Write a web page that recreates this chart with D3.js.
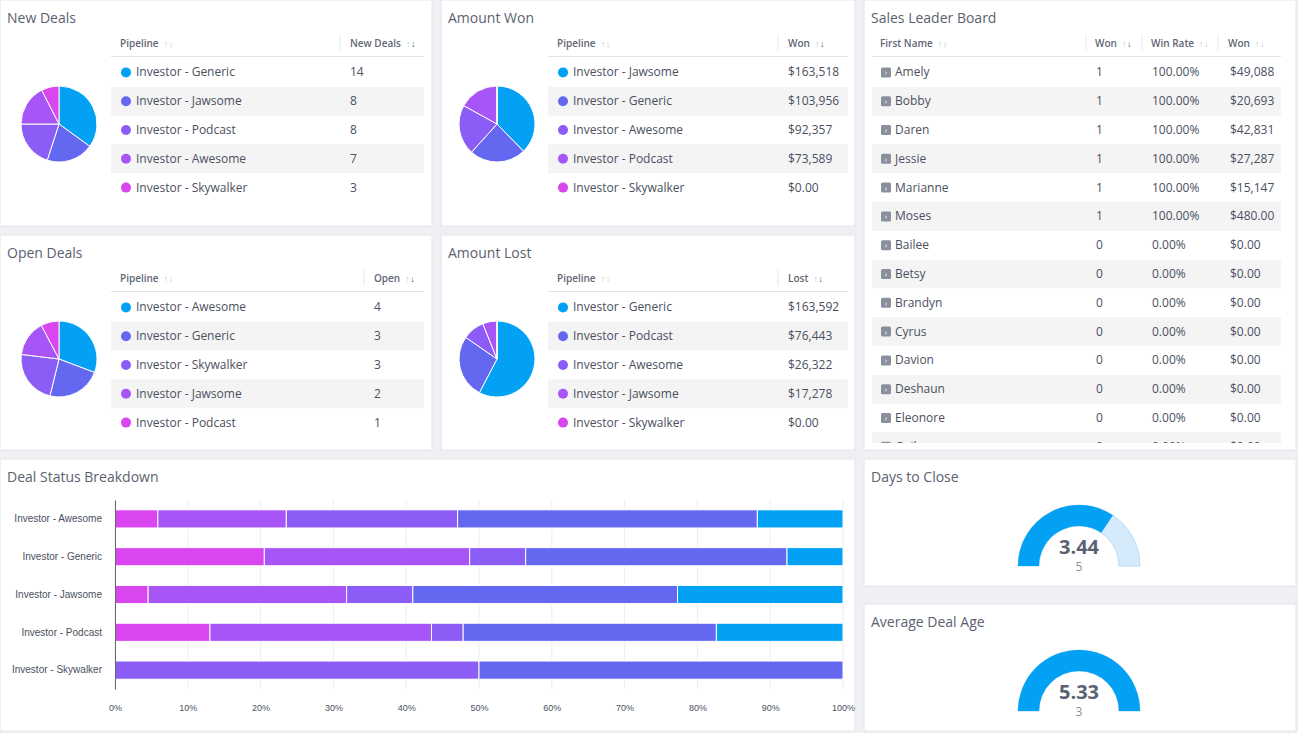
<!DOCTYPE html>
<html><head><meta charset="utf-8">
<script src="https://cdn.jsdelivr.net/npm/d3@7"></script>
<style>body{margin:0;background:#eef0f3;font-family:"Source Sans Pro","Open Sans","Noto Sans",sans-serif}</style>
</head><body><svg id="c" width="1298" height="733"></svg>
<script>
const colors=["#03a1f4","#6468f0","#8b5cf6","#a855f7","#d946ef"];
const newDealsCat=["Investor - Generic","Investor - Jawsome","Investor - Podcast","Investor - Awesome","Investor - Skywalker"];
const newDealsVal=[14,8,8,7,3];
const wonCat=["Investor - Jawsome","Investor - Generic","Investor - Awesome","Investor - Podcast","Investor - Skywalker"];
const wonVal=[163518,103956,92357,73589,0];
const wonLbl=["$163,518","$103,956","$92,357","$73,589","$0.00"];
const openCat=["Investor - Awesome","Investor - Generic","Investor - Skywalker","Investor - Jawsome","Investor - Podcast"];
const openVal=[4,3,3,2,1];
const lostCat=["Investor - Generic","Investor - Podcast","Investor - Awesome","Investor - Jawsome","Investor - Skywalker"];
const lostVal=[163592,76443,26322,17278,0];
const lostLbl=["$163,592","$76,443","$26,322","$17,278","$0.00"];
const leaderNames=["Amely","Bobby","Daren","Jessie","Marianne","Moses","Bailee","Betsy","Brandyn","Cyrus","Davion","Deshaun","Eleonore","Gail"];
const leaderWon=[1,1,1,1,1,1,0,0,0,0,0,0,0,0];
const leaderRate=["100.00%","100.00%","100.00%","100.00%","100.00%","100.00%","0.00%","0.00%","0.00%","0.00%","0.00%","0.00%","0.00%","0.00%"];
const leaderAmt=["$49,088","$20,693","$42,831","$27,287","$15,147","$480.00","$0.00","$0.00","$0.00","$0.00","$0.00","$0.00","$0.00","$0.00"];
const barCat=["Investor - Awesome","Investor - Generic","Investor - Jawsome","Investor - Podcast","Investor - Skywalker"];
// stage counts per pipeline (stack order: magenta, purple, violet, indigo, sky)
const stageA=[1,8,1,3,0];
const stageB=[3,11,6,7,0];
const stageC=[4,3,2,1,1];
const stageD=[7,14,8,8,1];
const stageE=[2,3,5,4,0];
const xTicks=[0,.1,.2,.3,.4,.5,.6,.7,.8,.9,1];
const gauges=[{title:"Days to Close",value:3.44,max:5},{title:"Average Deal Age",value:5.33,max:3}];

const svg=d3.select("#c");
const txt="#4a5060", hdr="#5f6675";
function panel(x,y,w,h,title){
  const g=svg.append("g").attr("transform",`translate(${x},${y})`);
  g.append("rect").attr("width",w).attr("height",h).attr("fill","#fff").attr("stroke","#e3e6ea");
  g.append("text").attr("x",7).attr("y",23).attr("font-size",14).attr("fill","#5a6170").text(title);
  return g;
}
function sortIcon(g,x,y,active){
  g.append("text").attr("x",x).attr("y",y).attr("font-size",9).attr("fill","#c3c7cf").text("↑");
  g.append("text").attr("x",x+5).attr("y",y).attr("font-size",9).attr("fill",active?"#4a5060":"#c3c7cf").text("↓");
}
function tableHeader(g,x0,x1,cols){
  g.append("line").attr("x1",x0).attr("x2",x1).attr("y1",56.5).attr("y2",56.5).attr("stroke","#dfe2e6");
  cols.forEach((c,i)=>{
    const t=g.append("text").attr("x",c.x).attr("y",47).attr("font-size",10).attr("font-weight",600).attr("fill",hdr).text(c.t);
    const w=t.node().getComputedTextLength();
    sortIcon(g,c.x+w+5,47,c.active);
    if(c.div) g.append("line").attr("x1",c.div).attr("x2",c.div).attr("y1",35).attr("y2",51).attr("stroke","#e6e8eb");
  });
}
function piePanel(x,y,w,h,title,col2,cats,vals,labels,tx0,tx1,divX,pcx){
  const g=panel(x,y,w,h,title);
  tableHeader(g,tx0,tx1,[{t:"Pipeline",x:tx0+9},{t:col2,x:divX+10,active:true,div:divX}]);
  const rowY=d3.scaleBand().domain(d3.range(cats.length)).range([58,202]);
  cats.forEach((c,i)=>{
    if(i%2==1) g.append("rect").attr("x",tx0).attr("y",rowY(i)).attr("width",tx1-tx0).attr("height",rowY.bandwidth()).attr("fill","#f4f4f5");
    const cy=rowY(i)+rowY.bandwidth()/2;
    g.append("circle").attr("cx",tx0+15).attr("cy",cy).attr("r",5).attr("fill",colors[i]);
    g.append("text").attr("x",tx0+25).attr("y",cy+4).attr("font-size",12).attr("fill",txt).text(c);
    g.append("text").attr("x",divX+10).attr("y",cy+4).attr("font-size",12).attr("fill",txt).text(labels[i]);
  });
  const pie=d3.pie().sort(null)(vals);
  const arc=d3.arc().innerRadius(0).outerRadius(38);
  g.append("g").attr("transform",`translate(${pcx},124)`).selectAll("path").data(pie).join("path")
    .attr("d",arc).attr("fill",(d,i)=>colors[i]).attr("stroke","#fff").attr("stroke-width",1);
}
piePanel(0,0,432,226,"New Deals","New Deals",newDealsCat,newDealsVal,newDealsVal,111,424,340,59);
piePanel(441,0,414,226,"Amount Won","Won",wonCat,wonVal,wonLbl,107,407,337,56);
piePanel(0,235,432,215,"Open Deals","Open",openCat,openVal,openVal,111,424,364,59);
piePanel(441,235,414,215,"Amount Lost","Lost",lostCat,lostVal,lostLbl,107,407,337,56);

// leaderboard
{
  const g=panel(864,0,432,450,"Sales Leader Board");
  svg.append("clipPath").attr("id","lb").append("rect").attr("x",0).attr("y",0).attr("width",432).attr("height",443);
  tableHeader(g,8,417,[{t:"First Name",x:16},{t:"Won",x:231,active:true,div:222},{t:"Win Rate",x:287,div:278},{t:"Won",x:364,div:354}]);
  const rg=g.append("g").attr("clip-path","url(#lb)");
  const rowY=d3.scaleBand().domain(d3.range(leaderNames.length)).range([58,58+28.8*leaderNames.length]);
  leaderNames.forEach((n,i)=>{
    if(i%2==1) rg.append("rect").attr("x",8).attr("y",rowY(i)).attr("width",409).attr("height",rowY.bandwidth()).attr("fill","#f4f4f5");
    const cy=rowY(i)+rowY.bandwidth()/2;
    rg.append("rect").attr("x",17).attr("y",cy-5).attr("width",10).attr("height",10).attr("rx",1.5).attr("fill","#8a8f9c");
    rg.append("text").attr("x",22).attr("y",cy+3).attr("text-anchor","middle").attr("font-size",8).attr("fill","#fff").text("›");
    rg.append("text").attr("x",31).attr("y",cy+4).attr("font-size",12).attr("fill",txt).text(n);
    rg.append("text").attr("x",232).attr("y",cy+4).attr("font-size",12).attr("fill",txt).text(leaderWon[i]);
    rg.append("text").attr("x",288).attr("y",cy+4).attr("font-size",12).attr("fill",txt).text(leaderRate[i]);
    rg.append("text").attr("x",366).attr("y",cy+4).attr("font-size",12).attr("fill",txt).text(leaderAmt[i]);
  });
}

// deal status breakdown
{
  const g=panel(0,459,855,272,"Deal Status Breakdown");
  const rows=barCat.map((c,i)=>({cat:c,s0:stageA[i],s1:stageB[i],s2:stageC[i],s3:stageD[i],s4:stageE[i]}));
  const keys=["s0","s1","s2","s3","s4"];
  const stackCols=["#d946ef","#a855f7","#8b5cf6","#6468f0","#03a1f4"];
  const series=d3.stack().keys(keys).offset(d3.stackOffsetExpand)(rows);
  const x=d3.scaleLinear().domain([0,1]).range([115,843]);
  const y=d3.scaleBand().domain(barCat).range([41,230]).paddingInner(0.52).paddingOuter(0.26);
  g.append("g").selectAll("line").data(xTicks).join("line").attr("x1",d=>x(d)).attr("x2",d=>x(d)).attr("y1",41).attr("y2",230).attr("stroke","#eceef1");
  series.forEach((s,k)=>{
    g.append("g").selectAll("rect").data(s).join("rect")
      .attr("x",d=>x(d[0])).attr("width",d=>Math.max(0,x(d[1])-x(d[0])))
      .attr("y",d=>y(d.data.cat)).attr("height",y.bandwidth()).attr("fill",stackCols[k]).attr("stroke","#fff").attr("stroke-width",1);
  });
  const ya=g.append("g").attr("transform","translate(115,0)").call(d3.axisLeft(y).tickSize(0).tickPadding(13));
  ya.select(".domain").attr("stroke","#666");
  ya.selectAll("text").attr("font-size",10).attr("fill",txt).attr("font-family","inherit");
  const xa=g.append("g").attr("transform","translate(0,236)").call(d3.axisBottom(x).tickValues(xTicks).tickFormat(d3.format(".0%")).tickSize(0).tickPadding(10));
  xa.select(".domain").remove();
  xa.selectAll("text").attr("font-size",9).attr("fill",txt).attr("font-family","inherit");
}

// gauges
gauges.forEach((gd,i)=>{
  const yy=i==0?459:604;
  const g=panel(864,yy,432,127,gd.title);
  const cx=215, cy=107;
  const ang=d3.scaleLinear().domain([0,gd.max]).range([-Math.PI/2,Math.PI/2]).clamp(true);
  const arc=d3.arc().innerRadius(40).outerRadius(61);
  const gg=g.append("g").attr("transform",`translate(${cx},${cy})`);
  gg.append("path").attr("d",arc({startAngle:-Math.PI/2,endAngle:Math.PI/2})).attr("fill","#d5ebfb").attr("stroke","#b9dcf6");
  gg.append("path").attr("d",arc({startAngle:-Math.PI/2,endAngle:ang(gd.value)})).attr("fill","#03a1f4");
  gg.append("text").attr("y",-12).attr("text-anchor","middle").attr("font-size",20).attr("font-weight",700).attr("fill","#5a6170").text(gd.value.toFixed(2));
  gg.append("text").attr("y",5).attr("text-anchor","middle").attr("font-size",12).attr("fill","#8a8f9c").text(gd.max);
});
</script></body></html>
